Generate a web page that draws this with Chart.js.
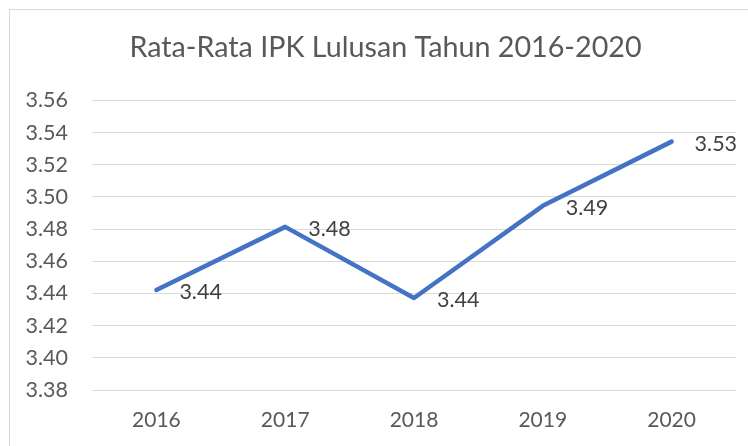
<!DOCTYPE html>
<html>
<head>
<meta charset="utf-8">
<script src="https://cdn.jsdelivr.net/npm/chart.js@4/dist/chart.umd.min.js"></script>
<style>
  html, body { margin: 0; padding: 0; background: #fff; overflow: hidden; }
  #wrap { position: relative; width: 748px; height: 446px; }
  #frame { position: absolute; left: 9px; top: 9px; width: 780px; height: 480px; border: 1px solid #d9d9d9; box-sizing: border-box; }
  canvas { position: absolute; left: 0; top: 0; }
</style>
</head>
<body>
<div id="wrap">
  <div id="frame"></div>
  <canvas id="c" width="748" height="446"></canvas>
</div>
<script>
const titleText = 'Rata-Rata IPK Lulusan Tahun 2016-2020';
const categories = ['2016', '2017', '2018', '2019', '2020'];
const ipkValues = [3.4422, 3.4814, 3.4372, 3.4945, 3.5344];
const yMin = 3.38;
const yMax = 3.56;
const yStep = 0.02;

const FONT = 'Lato, "Open Sans", sans-serif';

const valueLabels = {
  id: 'valueLabels',
  afterDatasetsDraw(chart) {
    const ctx = chart.ctx;
    const meta = chart.getDatasetMeta(0);
    ctx.save();
    ctx.font = '21.5px ' + FONT;
    ctx.fillStyle = '#404040';
    ctx.textAlign = 'left';
    ctx.textBaseline = 'middle';
    meta.data.forEach((pt, i) => {
      const v = chart.data.datasets[0].data[i];
      ctx.fillText(v.toFixed(2), pt.x + 23, pt.y + 2);
    });
    ctx.restore();
  }
};

new Chart(document.getElementById('c'), {
  type: 'line',
  data: {
    labels: categories,
    datasets: [{
      data: ipkValues,
      borderColor: '#4472C4',
      borderWidth: 4.5,
      borderCapStyle: 'round',
      borderJoinStyle: 'round',
      pointRadius: 0,
      pointHoverRadius: 0,
      tension: 0,
      fill: false
    }]
  },
  options: {
    responsive: false,
    animation: false,
    events: [],
    layout: { padding: { left: 23, right: 0, top: 20, bottom: 0 } },
    plugins: {
      legend: { display: false },
      tooltip: { enabled: false },
      title: {
        display: true,
        text: titleText,
        color: '#595959',
        font: { family: FONT, size: 28.7, weight: 'normal', lineHeight: 1.2 },
        padding: { top: 11, bottom: 35 }
      }
    },
    scales: {
      x: {
        offset: true,
        grid: { display: false },
        border: { display: false },
        ticks: { color: '#595959', font: { family: FONT, size: 21 }, padding: 10, maxRotation: 0 },
        afterFit(s) { s.height = 56; }
      },
      y: {
        min: yMin,
        max: yMax,
        grid: { color: '#d9d9d9', lineWidth: 1, drawTicks: false },
        border: { display: false },
        ticks: {
          stepSize: yStep,
          color: '#595959',
          font: { family: FONT, size: 21.5 },
          padding: 24,
          callback: v => Number(v).toFixed(2)
        },
        afterFit(s) { s.width = 69; }
      },
      yRight: {
        position: 'right',
        min: yMin,
        max: yMax,
        grid: { display: false },
        border: { display: false },
        ticks: { display: false },
        afterFit(s) { s.width = 12; }
      }
    }
  },
  plugins: [valueLabels]
});
</script>
</body>
</html>
